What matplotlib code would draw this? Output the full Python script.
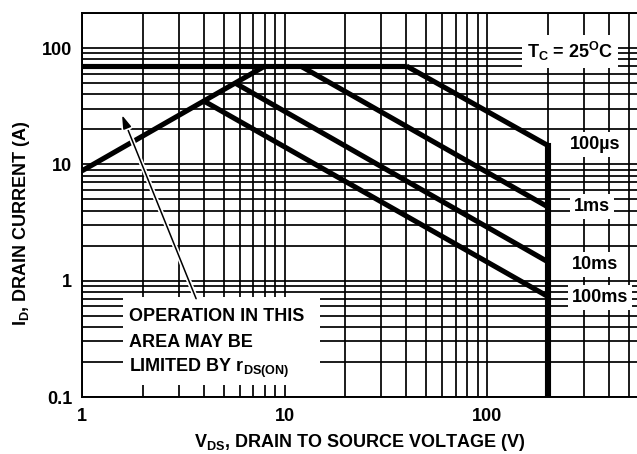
import matplotlib
matplotlib.use("Agg")
import matplotlib.pyplot as plt
import matplotlib.patheffects as pe
from matplotlib.patches import Rectangle
import numpy as np

plt.rcParams['font.family'] = ['Liberation Sans', 'DejaVu Sans']
plt.rcParams['font.weight'] = 'bold'
plt.rcParams['mathtext.fontset'] = 'custom'
plt.rcParams['mathtext.rm'] = 'Liberation Sans:bold'
plt.rcParams['mathtext.bf'] = 'Liberation Sans:bold'
plt.rcParams['mathtext.it'] = 'Liberation Sans:bold'
plt.rcParams['mathtext.sf'] = 'Liberation Sans:bold'

# ---- data ----
limit_v = [1, 40]
limit_i = [70, 70]
rds_v = [1, 8]
rds_i = [8.8, 70]
us100_v = [40, 200]
us100_i = [70, 14.5]
ms1_v = [12, 200]
ms1_i = [70, 4.3]
ms10_v = [5.7, 200]
ms10_i = [50, 1.45]
ms100_v = [4, 200]
ms100_i = [35, 0.73]
bv_v = [200, 200]
bv_i = [14.5, 0.1]

xticks = [1, 10, 100]
xticklabels = ['1', '10', '100']
yticks = [0.1, 1, 10, 100]
yticklabels = ['0.1', '1', '10', '100']

curve_labels = ['100\u00b5s', '1ms', '10ms', '100ms']
curve_label_x = [341, 330, 341, 361]
curve_label_y = [14.9, 4.36, 1.375, 0.713]

FS = 13

fig = plt.figure(figsize=(6.37, 4.54), dpi=100)
ax = fig.add_axes([82/637, 1-397/454, 1-82/637, (397-13)/454])
ax.set_xscale('log')
ax.set_yscale('log')
ax.set_xlim(1, 550)
ax.set_ylim(0.1, 200)

# grid
ax.grid(True, which='both', color='black', linewidth=1.25, zorder=1)
ax.set_axisbelow(True)
ax.tick_params(which='both', length=0, labelsize=FS)
ax.tick_params(axis='x', pad=8)
ax.tick_params(axis='y', pad=7)
ax.set_xticks(xticks)
ax.set_xticklabels(xticklabels, fontweight='bold')
ax.set_yticks(yticks)
ax.set_yticklabels(yticklabels, fontweight='bold')
ax.xaxis.set_minor_formatter(matplotlib.ticker.NullFormatter())
ax.yaxis.set_minor_formatter(matplotlib.ticker.NullFormatter())
ax.spines['right'].set_visible(False)
for s in ['left', 'bottom', 'top']:
    ax.spines[s].set_linewidth(1.4)

lw = 3.7
for v, i in [(limit_v, limit_i), (rds_v, rds_i), (us100_v, us100_i),
             (ms1_v, ms1_i), (ms10_v, ms10_i), (ms100_v, ms100_i)]:
    ax.plot(v, i, color='black', linewidth=lw, solid_capstyle='butt', zorder=3)
ax.plot(bv_v, bv_i, color='black', linewidth=4.4, solid_capstyle='projecting', zorder=3)

# labels with white boxes
for lab, x, y in zip(curve_labels, curve_label_x, curve_label_y):
    ax.text(x, y, lab, ha='center', va='center', fontsize=FS, fontweight='bold',
            bbox=dict(facecolor='white', edgecolor='none', pad=3), zorder=5)

ax.text(257, 94, r'T$_\mathregular{C}$ = 25$^\mathregular{O}$C', ha='center', va='center',
        fontsize=FS, fontweight='bold',
        bbox=dict(facecolor='white', edgecolor='none', pad=3.5), zorder=5)

# text box region
ax.add_patch(Rectangle((1.594, 0.126), 14.97-1.594, 0.727-0.126, facecolor='white',
                       edgecolor='none', zorder=4))
ax.text(1.707, 0.451, 'OPERATION IN THIS', ha='left', va='baseline', fontsize=FS,
        fontweight='bold', zorder=5)
ax.text(1.707, 0.269, 'AREA MAY BE', ha='left', va='baseline', fontsize=FS,
        fontweight='bold', zorder=5)
ax.text(1.707, 0.163, r'LIMITED BY r$_\mathregular{DS(ON)}$', ha='left', va='baseline',
        fontsize=FS, fontweight='bold', zorder=5)

ann = ax.annotate('', xy=(1.576, 26.5), xytext=(3.66, 0.70),
                  arrowprops=dict(arrowstyle='-|>,head_length=0.8,head_width=0.25',
                                  color='black', lw=1.1, shrinkA=0, shrinkB=0),
                  zorder=6)
ann.arrow_patch.set_path_effects([pe.Stroke(linewidth=3.5, foreground='white'), pe.Normal()])

ax.set_xlabel(r'V$_\mathregular{DS}$, DRAIN TO SOURCE VOLTAGE (V)', fontsize=FS,
              fontweight='bold', labelpad=5)
ax.set_ylabel(r'I$_\mathregular{D}$, DRAIN CURRENT (A)', fontsize=FS,
              fontweight='bold')
ax.yaxis.set_label_coords(-0.09, 0.453)

fig.savefig('out.png', dpi=100)
